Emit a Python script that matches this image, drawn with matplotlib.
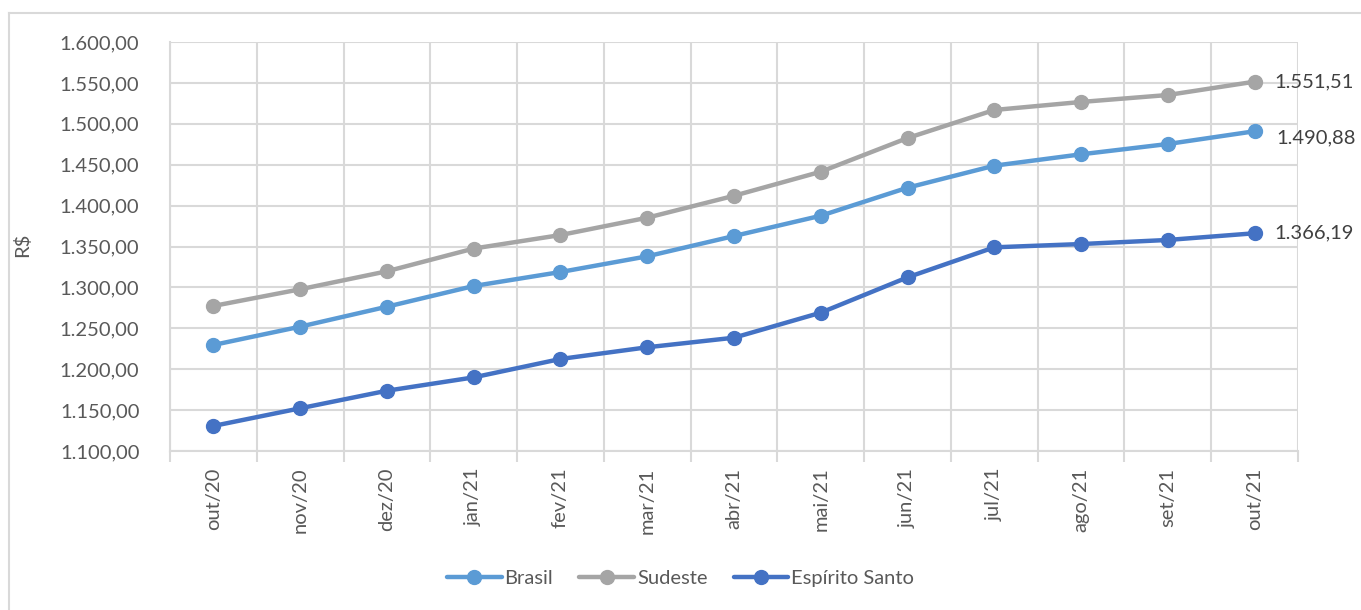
import numpy as np
from matplotlib import pyplot as plt
from matplotlib.lines import Line2D

plt.rcParams['font.family'] = ['Lato', 'DejaVu Sans']

meses = ['out/20', 'nov/20', 'dez/20', 'jan/21', 'fev/21', 'mar/21', 'abr/21',
         'mai/21', 'jun/21', 'jul/21', 'ago/21', 'set/21', 'out/21']
brasil = [1229.6, 1252.0, 1276.4, 1301.7, 1318.8, 1338.0, 1362.8,
          1387.6, 1421.9, 1448.8, 1462.7, 1475.3, 1490.88]
sudeste = [1277.3, 1297.7, 1319.7, 1347.5, 1364.0, 1385.2, 1412.0,
           1441.4, 1482.6, 1516.9, 1526.7, 1535.2, 1551.51]
es = [1130.6, 1152.2, 1173.7, 1190.0, 1212.5, 1226.8, 1238.5,
      1269.1, 1312.3, 1349.0, 1353.0, 1358.0, 1366.19]

cor_texto = '#595959'
cor_grade = '#D9D9D9'
fs = 14.5

def fmt_br(v):
    s = f'{v:,.2f}'
    return s.replace(',', 'X').replace('.', ',').replace('X', '.')

fig = plt.figure(figsize=(13.61, 6.10), dpi=100)
ax = fig.add_axes([170/1361, 1-451/610, (1298-170)/1361, (451-42)/610])

# moldura externa do grafico
fig.add_artist(Line2D([9/1361, 9/1361], [0, 1-13/610], transform=fig.transFigure,
                      color=cor_grade, lw=1.5))
fig.add_artist(Line2D([9/1361, 1], [1-13/610, 1-13/610], transform=fig.transFigure,
                      color=cor_grade, lw=1.5))

x = np.arange(len(meses))
series = [('Brasil', brasil, '#5B9BD5'),
          ('Sudeste', sudeste, '#A5A5A5'),
          ('Espírito Santo', es, '#4472C4')]
for nome, vals, cor in series:
    ax.plot(x, vals, '-o', color=cor, lw=3.2, ms=10, label=nome,
            solid_capstyle='round', zorder=3)

# rotulos do ultimo mes
ax.annotate(fmt_br(sudeste[-1]), (x[-1], sudeste[-1]), xytext=(14, 0),
            textcoords='offset points', va='center', ha='left',
            fontsize=fs, color='#404040', annotation_clip=False)
ax.annotate(fmt_br(brasil[-1]), (x[-1], brasil[-1]), xytext=(16, -5),
            textcoords='offset points', va='center', ha='left',
            fontsize=fs, color='#404040', annotation_clip=False)
ax.annotate(fmt_br(es[-1]), (x[-1], es[-1]), xytext=(14, 0),
            textcoords='offset points', va='center', ha='left',
            fontsize=fs, color='#404040', annotation_clip=False)

ax.set_xlim(-0.5, len(meses) - 0.5)
ax.set_ylim(1100, 1600)
ax.set_yticks(np.arange(1100, 1601, 50))
ax.set_yticklabels([fmt_br(v) for v in np.arange(1100, 1601, 50)])
ax.set_xticks(x)
ax.set_xticklabels(meses, rotation=90)
ax.set_xticks(np.arange(-0.5, len(meses), 1), minor=True)

ax.grid(axis='y', which='major', color=cor_grade, lw=1.5)
ax.grid(axis='x', which='minor', color=cor_grade, lw=1.5)
ax.set_axisbelow(True)

ax.tick_params(axis='x', which='major', length=0, pad=12, labelsize=fs, labelcolor=cor_texto)
ax.tick_params(axis='x', which='minor', length=8, color=cor_grade, width=1.5)
ax.tick_params(axis='y', length=0, pad=22, labelsize=fs, labelcolor=cor_texto)

for lado in ['top', 'right']:
    ax.spines[lado].set_visible(False)
for lado in ['left', 'bottom']:
    ax.spines[lado].set_color(cor_grade)
    ax.spines[lado].set_linewidth(1.5)

fig.text(22/1361, 1-245/610, 'R$', rotation=90, va='center', ha='center',
         fontsize=fs, color=cor_texto)

fig.legend(loc='center', bbox_to_anchor=(0.5, 1-578/610), ncol=3, frameon=False,
           fontsize=fs, labelcolor=cor_texto, handlelength=2.7,
           handletextpad=0.15, columnspacing=1.3)

plt.savefig('out.png', dpi=100)
